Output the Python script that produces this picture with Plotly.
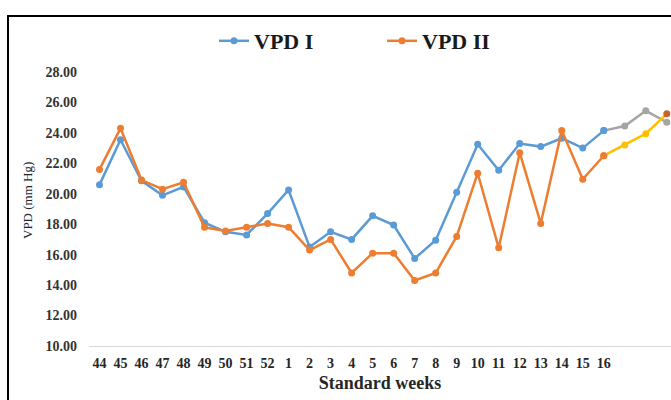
import plotly.graph_objects as go

# Standard meteorological weeks (44-52 of one year, 1-16 of the next)
weeks = ["44", "45", "46", "47", "48", "49", "50", "51", "52",
         "1", "2", "3", "4", "5", "6", "7", "8", "9", "10",
         "11", "12", "13", "14", "15", "16"]

vpd_1 = [20.6, 23.55, 20.85, 19.9, 20.45, 18.1, 17.5, 17.3, 18.7,
         20.25, 16.5, 17.5, 17.0, 18.55, 17.95, 15.75, 16.95, 20.1, 23.25,
         21.55, 23.3, 23.1, 23.65, 23.0, 24.15]
vpd_2 = [21.6, 24.3, 20.9, 20.3, 20.75, 17.8, 17.55, 17.8, 18.05,
         17.8, 16.3, 17.0, 14.8, 16.1, 16.1, 14.3, 14.8, 17.2, 21.35,
         16.45, 22.7, 18.05, 24.15, 20.95, 22.5]

# Three further (unlabelled) weeks
vpd_1_extra = [24.45, 25.45, 24.7]
vpd_2_extra = [23.2, 23.95, 25.25]

BLUE = "#5B9BD5"
ORANGE = "#ED7D31"
GREY = "#A5A5A5"
YELLOW = "#FFC000"
DARK_ORANGE = "#C9622A"
FONT = "Liberation Serif"

n = len(weeks)
x_main = list(range(n))
x_extra = list(range(n - 1, n + len(vpd_1_extra)))

fig = go.Figure()

fig.add_trace(go.Scatter(
    x=x_extra, y=[vpd_1[-1]] + vpd_1_extra, mode="lines+markers",
    line=dict(color=GREY, width=2.5),
    marker=dict(size=7, color=[BLUE] + [GREY] * len(vpd_1_extra)),
    showlegend=False, hoverinfo="skip"))
fig.add_trace(go.Scatter(
    x=x_extra, y=[vpd_2[-1]] + vpd_2_extra, mode="lines+markers",
    line=dict(color=YELLOW, width=2.5),
    marker=dict(size=7, color=[ORANGE, YELLOW, YELLOW, DARK_ORANGE]),
    showlegend=False, hoverinfo="skip"))

fig.add_trace(go.Scatter(
    x=x_main, y=vpd_1, name="VPD I", mode="lines+markers",
    line=dict(color=BLUE, width=2.5), marker=dict(size=7, color=BLUE)))
fig.add_trace(go.Scatter(
    x=x_main, y=vpd_2, name="VPD II", mode="lines+markers",
    line=dict(color=ORANGE, width=2.5), marker=dict(size=7, color=ORANGE)))

# Plot area geometry in pixels
W, H = 671, 400
L, R, T, B = 89, 0, 72, 54
pw, ph = W - L - R, H - T - B


def px_x(px):
    return (px - L) / pw


def px_y(py):
    return (H - B - py) / ph


fig.update_layout(
    width=W, height=H,
    margin=dict(l=L, r=R, t=T, b=B),
    paper_bgcolor="white", plot_bgcolor="white",
    font=dict(family=FONT, color="#262626"),
    showlegend=True,
    legend=dict(
        orientation="h", x=px_x(214), xanchor="left",
        y=px_y(41), yanchor="middle",
        font=dict(family=FONT, size=22, color="#1a1a1a", weight="bold"),
        entrywidth=123, entrywidthmode="pixels",
        bgcolor="rgba(0,0,0,0)"),
    xaxis=dict(
        range=[-0.5, n + len(vpd_1_extra) - 0.8],
        tickmode="array", tickvals=x_main, ticktext=weeks,
        showgrid=False, zeroline=False,
        showline=True, linecolor="#D9D9D9", linewidth=1,
        ticks="", tickangle=0, ticklabelstandoff=4,
        tickfont=dict(family=FONT, size=14, color="#262626", weight="bold"),
        title=dict(text="Standard weeks", standoff=6,
                   font=dict(family=FONT, size=18, color="#262626", weight="bold"))),
    yaxis=dict(
        range=[10, 28], dtick=2, tickformat=".2f",
        showgrid=False, zeroline=False, showline=False,
        ticks="", ticklabelstandoff=11,
        tickfont=dict(family=FONT, size=14, color="#333333", weight="bold")),
    annotations=[dict(
        text="VPD (mm Hg)", textangle=-90, showarrow=False,
        xref="paper", yref="paper", x=px_x(27), y=px_y(201),
        xanchor="center", yanchor="middle",
        font=dict(family=FONT, size=13, color="#262626"))],
    shapes=[dict(
        type="rect", xref="paper", yref="paper",
        x0=px_x(8), x1=px_x(675), y0=px_y(404), y1=px_y(16),
        line=dict(color="black", width=2), layer="above")],
)

fig.write_html("out.html")
